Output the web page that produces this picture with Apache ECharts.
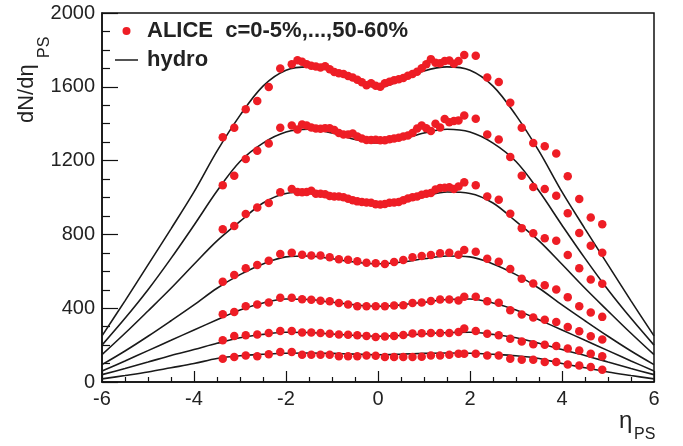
<!DOCTYPE html>
<html>
<head>
<meta charset="utf-8">
<script src="https://cdn.jsdelivr.net/npm/echarts@6/dist/echarts.min.js"></script>
<style>
html,body{margin:0;padding:0;background:#fff;}
#c{width:683px;height:446px;}
</style>
</head>
<body>
<div id="c"></div>
<script>
// ---- data ----
const etaFMDLeft = [-3.375,-3.125,-2.875,-2.625,-2.375,-2.125,-1.875];
const etaFMDRight = [1.875,2.125,2.375,2.625,2.875,3.125,3.375,3.625,3.875,4.125,4.375,4.625,4.875];
const etaSPDFine = [-1.75,-1.65,-1.55,-1.45,-1.35,-1.25,-1.15,-1.05,-0.95,-0.85,-0.75,-0.65,-0.55,-0.45,-0.35,-0.25,-0.15,-0.05,
                    0.05,0.15,0.25,0.35,0.45,0.55,0.65,0.75,0.85,0.95,1.05,1.15,1.25,1.35,1.45,1.55,1.65,1.75];
const etaSPDCoarse = [-1.65,-1.45,-1.25,-1.05,-0.85,-0.65,-0.45,-0.25,-0.05,0.15,0.35,0.55,0.75,0.95,1.15,1.35,1.55,1.75];

// ALICE dN/deta, centralities 0-5%,5-10%,10-20%,20-30%,30-40%,40-50%,50-60%
const alice0FMDL = [1327,1378,1478,1523,1599,1699,1722];
const alice0SPD = [1744,1736,1722,1714,1710,1704,1712,1695,1680,1673,1670,1658,1650,1638,1625,1608,1619,1606,
                   1600,1619,1628,1636,1641,1648,1660,1670,1682,1700,1722,1750,1730,1728,1740,1742,1725,1740];
const alice0FMDR = [1773,1768,1650,1626,1514,1378,1296,1278,1238,1115,992,891,855];

const alice1FMDL = [1066,1118,1209,1254,1293,1378,1390];
const alice1SPD = [1369,1395,1390,1380,1374,1372,1376,1375,1366,1350,1341,1341,1347,1330,1320,1312,1312,1313,
                   1310,1310,1316,1320,1324,1330,1336,1350,1374,1390,1375,1360,1400,1380,1425,1408,1414,1418];
const alice1FMDR = [1445,1427,1341,1314,1220,1118,1057,1046,1009,915,808,738,701];

const alice2FMDL = [828,846,910,946,970,1028,1046];
const alice2SPD = [1030,1028,1030,1036,1020,1020,1018,1008,1006,1006,1002,993,985,979,975,973,972,964,
                   962,965,972,973,976,985,995,1002,1006,1015,1020,1025,1043,1051,1053,1055,1046,1060];
const alice2FMDR = [1082,1066,1006,988,912,834,806,779,765,688,616,556,532];

const alice3FMDL = [543,580,616,634,657,694,701];
const alice3SPD = [690,685,685,676,665,662,654,646,643,640,651,661,676,683,688,698,700,690];
const alice3FMDR = [716,706,668,652,612,560,534,525,502,460,411,377,353];

const alice4FMDL = [367,380,411,420,431,456,456];
const alice4SPD = [449,446,440,438,428,420,411,411,411,411,414,416,428,431,439,447,447,442];
const alice4FMDR = [462,462,438,429,389,366,349,338,325,298,275,248,230];

const alice5FMDL = [226,249,253,258,266,276,276];
const alice5SPD = [268,268,266,262,258,256,253,250,244,246,250,255,263,264,265,266,266,271];
const alice5FMDR = [290,276,262,253,235,220,204,202,195,181,171,153,139];

const alice6FMDL = [126,135,144,140,150,162,162];
const alice6SPD = [148,148,148,148,140,139,140,144,142,135,135,135,135,137,144,144,148,153];
const alice6FMDR = [153,153,144,144,126,121,121,108,108,95,90,81,66];

// hydro curves
const etaHydro = [-6,-5.5,-5,-4.5,-4,-3.5,-3,-2.5,-2,-1.5,-1,-0.5,0,0.5,1,1.5,2,2.5,3,3.5,4,4.5,5,5.5,6];
const hydro0 = [250,440,635,830,1030,1251,1445,1604,1690,1708,1686,1635,1595,1635,1686,1708,1690,1604,1445,1251,1030,830,635,440,250];
const hydro1 = [200,345,500,670,850,1035,1195,1295,1355,1370,1350,1315,1295,1315,1350,1370,1355,1295,1195,1035,850,670,500,345,200];
const hydro2 = [148,264,385,508,638,765,870,970,1022,1030,1005,975,962,975,1005,1030,1022,970,870,765,638,508,385,264,148];
const hydro3 = [94,168,248,332,418,508,582,640,678,683,668,650,641,650,668,683,678,640,582,508,418,332,248,168,94];
const hydro4 = [60,114,170,226,282,337,390,428,450,447,432,418,410,418,432,447,450,428,390,337,282,226,170,114,60];
const hydro5 = [40,73,108,144,176,210,240,258,270,268,260,252,248,252,260,268,270,258,240,210,176,144,108,73,40];
const hydro6 = [17,35,54,77,100,127,142,150,156,157,155,151,148,151,155,157,156,150,142,127,100,77,54,35,17];

const xTicks = [-6,-4,-2,0,2,4,6];
const yTicks = [0,400,800,1200,1600,2000];

const aliceName = 'ALICE  c=0-5%,...,50-60%';
const hydroName = 'hydro';

// ---- build ----
const etaFine = etaFMDLeft.concat(etaSPDFine, etaFMDRight);
const etaCoarse = etaFMDLeft.concat(etaSPDCoarse, etaFMDRight);
const pairs = (xs, ys) => ys.map((y, i) => [xs[i], y]);

const aliceSets = [
  pairs(etaFine, alice0FMDL.concat(alice0SPD, alice0FMDR)),
  pairs(etaFine, alice1FMDL.concat(alice1SPD, alice1FMDR)),
  pairs(etaFine, alice2FMDL.concat(alice2SPD, alice2FMDR)),
  pairs(etaCoarse, alice3FMDL.concat(alice3SPD, alice3FMDR)),
  pairs(etaCoarse, alice4FMDL.concat(alice4SPD, alice4FMDR)),
  pairs(etaCoarse, alice5FMDL.concat(alice5SPD, alice5FMDR)),
  pairs(etaCoarse, alice6FMDL.concat(alice6SPD, alice6FMDR))
];
const hydroSets = [hydro0,hydro1,hydro2,hydro3,hydro4,hydro5,hydro6].map(h => pairs(etaHydro, h));

const FONT = '"Liberation Sans", Arial, Helvetica, sans-serif';
const RED = '#ee1d25';

const series = [];
hydroSets.forEach(d => series.push({
  name: hydroName, type: 'line', data: d, smooth: 0.35, symbol: 'none', showSymbol: false,
  lineStyle: { color: '#1a1a1a', width: 1.6 }, itemStyle: { color: '#1a1a1a' }, z: 2, silent: true
}));
aliceSets.forEach(d => series.push({
  name: aliceName, type: 'scatter', data: d, symbol: 'circle', symbolSize: 8.5,
  itemStyle: { color: RED, opacity: 1 }, z: 3, silent: true
}));

const chart = echarts.init(document.getElementById('c'), null, { renderer: 'canvas' });
chart.setOption({
  animation: false,
  backgroundColor: '#fff',
  grid: { left: 102, right: 29, top: 13, bottom: 64, show: true, borderColor: '#111', borderWidth: 1.5, backgroundColor: 'transparent' },
  legend: {
    orient: 'vertical', left: 115, top: 20, padding: 0, itemWidth: 23, itemHeight: 8, itemGap: 7,
    selectedMode: false,
    data: [
      { name: aliceName, icon: 'circle' },
      { name: hydroName, icon: 'path://M0,0 L40,0 L40,2.6 L0,2.6 Z', itemStyle: { color: '#1a1a1a' } }
    ],
    textStyle: { fontFamily: FONT, fontSize: 22, fontWeight: 'bold', color: '#222', lineHeight: 22, padding: [0,0,0,4] }
  },
  xAxis: {
    type: 'value', min: -6, max: 6, interval: 2,
    axisLine: { show: true, onZero: false, lineStyle: { color: '#111', width: 1.5 } },
    axisTick: { show: true, inside: true, length: 11, lineStyle: { color: '#111', width: 1.2 } },
    minorTick: { show: true, splitNumber: 4, length: 5, lineStyle: { color: '#111', width: 1.2 } },
    splitLine: { show: false },
    axisLabel: { fontFamily: FONT, fontSize: 20, color: '#222', margin: 7,
      formatter: v => xTicks.includes(v) ? String(v) : '' }
  },
  yAxis: {
    type: 'value', min: 0, max: 2000, interval: 400,
    axisLine: { show: true, onZero: false, lineStyle: { color: '#111', width: 1.5 } },
    axisTick: { show: true, inside: true, length: 16, lineStyle: { color: '#111', width: 1.2 } },
    minorTick: { show: true, splitNumber: 4, length: 8, lineStyle: { color: '#111', width: 1.2 } },
    splitLine: { show: false },
    axisLabel: { fontFamily: FONT, fontSize: 20, color: '#222', margin: 7,
      formatter: v => yTicks.includes(v) ? String(v) : '' }
  },
  graphic: [
    { type: 'text', x: 38, y: 123, rotation: Math.PI / 2, silent: true,
      style: { text: 'dN/dη', font: '22px ' + FONT, fill: '#222', align: 'left', verticalAlign: 'bottom' } },
    { type: 'text', x: 53, y: 58, rotation: Math.PI / 2, silent: true,
      style: { text: 'PS', font: '16px ' + FONT, fill: '#222', align: 'left', verticalAlign: 'bottom' } },
    { type: 'text', x: 619, y: 433, silent: true,
      style: { text: 'η', font: '24px ' + FONT, fill: '#222', align: 'left', verticalAlign: 'bottom' } },
    { type: 'text', x: 634, y: 443, silent: true,
      style: { text: 'PS', font: '16px ' + FONT, fill: '#222', align: 'left', verticalAlign: 'bottom' } }
  ],
  series: series
});
</script>
</body>
</html>
